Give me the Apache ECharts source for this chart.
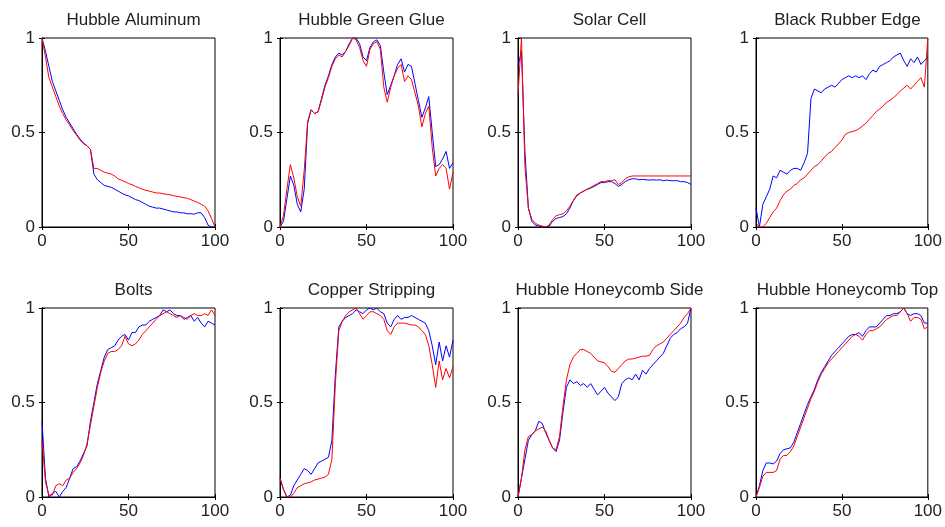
<!DOCTYPE html>
<html>
<head>
<meta charset="utf-8">
<script src="https://cdn.jsdelivr.net/npm/echarts@6/dist/echarts.min.js"></script>
<style>
html, body { margin: 0; padding: 0; background: #fff; }
#main { width: 945px; height: 527px; }
</style>
</head>
<body>
<div id="main"></div>
<script>
// sample positions shared by every panel
const xs = [0,2,4,6,8,10,12,14,16,18,20,22,24,26,28,30,32,34,36,38,40,42,44,46,48,50,52,54,56,58,60,62,64,66,68,70,72,74,76,78,80,82,84,86,88,90,92,94,96,98,100];

const titles = ['Hubble Aluminum', 'Hubble Green Glue', 'Solar Cell', 'Black Rubber Edge',
  'Bolts', 'Copper Stripping', 'Hubble Honeycomb Side', 'Hubble Honeycomb Top'];

const xTicks = [0, 50, 100];
const yTicks = [0, 0.5, 1];

const aluminumBlue = [1,0.93,0.85,0.77,0.72,0.67,0.62,0.58,0.55,0.52,0.49,0.465,0.445,0.43,0.41,0.28,0.25,0.235,0.22,0.215,0.21,0.2,0.19,0.18,0.17,0.165,0.155,0.145,0.14,0.13,0.12,0.11,0.105,0.1,0.1,0.095,0.09,0.085,0.08,0.08,0.075,0.075,0.07,0.07,0.068,0.075,0.075,0.05,0.01,0,0];
const aluminumRed = [1,0.9,0.79,0.74,0.69,0.64,0.6,0.565,0.54,0.51,0.485,0.46,0.44,0.43,0.41,0.31,0.31,0.3,0.29,0.285,0.28,0.27,0.255,0.247,0.24,0.23,0.224,0.215,0.208,0.2,0.194,0.19,0.185,0.18,0.18,0.176,0.173,0.17,0.166,0.162,0.159,0.155,0.152,0.145,0.137,0.13,0.12,0.11,0.085,0.045,0];

const glueBlue = [0,0.03,0.15,0.27,0.22,0.12,0.08,0.2,0.55,0.62,0.6,0.61,0.68,0.75,0.8,0.86,0.9,0.92,0.91,0.93,0.97,1,1,0.97,0.9,0.88,0.95,0.98,0.99,0.96,0.82,0.7,0.75,0.8,0.86,0.89,0.82,0.86,0.85,0.76,0.67,0.58,0.63,0.69,0.5,0.32,0.33,0.36,0.4,0.31,0.34];
const glueRed = [0,0.06,0.2,0.33,0.26,0.16,0.11,0.3,0.56,0.62,0.6,0.61,0.67,0.74,0.79,0.85,0.89,0.91,0.9,0.93,0.96,1,0.99,0.95,0.88,0.85,0.94,0.97,0.98,0.94,0.74,0.66,0.74,0.8,0.84,0.86,0.77,0.8,0.78,0.71,0.64,0.53,0.6,0.64,0.42,0.27,0.31,0.33,0.31,0.2,0.29];

const solarBlue = [0.85,0.93,0.4,0.1,0.03,0.01,0.005,0,0,0.005,0.03,0.045,0.05,0.055,0.07,0.1,0.14,0.165,0.18,0.19,0.2,0.205,0.215,0.225,0.235,0.235,0.24,0.24,0.23,0.215,0.225,0.24,0.25,0.255,0.255,0.25,0.252,0.25,0.248,0.25,0.248,0.25,0.245,0.248,0.245,0.245,0.245,0.24,0.24,0.235,0.225];
const solarRed = [0.7,1,0.32,0.1,0.04,0.02,0.01,0.005,0,0.01,0.04,0.06,0.065,0.07,0.085,0.11,0.14,0.17,0.18,0.19,0.2,0.21,0.22,0.23,0.24,0.24,0.245,0.245,0.25,0.225,0.235,0.255,0.265,0.27,0.27,0.27,0.27,0.27,0.27,0.27,0.27,0.27,0.27,0.27,0.27,0.27,0.27,0.27,0.27,0.27,0.27];

const rubberBlue = [0.1,0,0.12,0.16,0.2,0.27,0.26,0.3,0.29,0.28,0.3,0.31,0.31,0.3,0.34,0.39,0.68,0.73,0.72,0.71,0.73,0.74,0.75,0.74,0.76,0.78,0.79,0.8,0.79,0.8,0.79,0.8,0.78,0.81,0.83,0.82,0.85,0.86,0.87,0.88,0.9,0.91,0.92,0.88,0.85,0.89,0.87,0.9,0.86,0.88,0.9];
const rubberRed = [0.02,0,0,0.02,0.05,0.08,0.1,0.14,0.17,0.19,0.2,0.22,0.23,0.25,0.26,0.28,0.3,0.32,0.33,0.35,0.37,0.39,0.4,0.42,0.44,0.46,0.49,0.5,0.505,0.51,0.52,0.535,0.55,0.57,0.59,0.61,0.625,0.64,0.66,0.67,0.685,0.7,0.72,0.735,0.75,0.73,0.75,0.77,0.79,0.74,1];

const boltsBlue = [0.4,0.1,0,0.02,0.03,0,0.03,0.05,0.1,0.15,0.16,0.19,0.23,0.27,0.4,0.5,0.6,0.67,0.74,0.78,0.79,0.8,0.83,0.85,0.86,0.83,0.87,0.87,0.9,0.91,0.91,0.93,0.94,0.95,0.96,0.99,0.98,0.99,0.97,0.96,0.96,0.94,0.95,0.96,0.93,0.95,0.92,0.9,0.93,0.92,0.91];
const boltsRed = [0.3,0.08,0.01,0.01,0.06,0.07,0.06,0.09,0.1,0.13,0.15,0.18,0.22,0.28,0.38,0.48,0.58,0.66,0.72,0.76,0.77,0.77,0.78,0.8,0.85,0.81,0.8,0.81,0.83,0.86,0.88,0.9,0.92,0.94,0.96,0.97,0.98,0.97,0.96,0.95,0.96,0.95,0.94,0.96,0.97,0.96,0.96,0.97,0.96,0.99,0.96];

const copperBlue = [0.1,0.04,0,0.01,0.06,0.09,0.12,0.15,0.14,0.12,0.15,0.18,0.19,0.2,0.21,0.3,0.65,0.9,0.93,0.95,0.96,0.97,0.99,0.98,0.97,0.99,1,0.99,1,0.98,0.97,0.92,0.9,0.94,0.96,0.94,0.95,0.95,0.96,0.95,0.94,0.93,0.92,0.88,0.8,0.7,0.82,0.72,0.8,0.74,0.83];
const copperRed = [0.1,0.04,0,0,0.02,0.05,0.06,0.07,0.075,0.08,0.09,0.095,0.1,0.105,0.12,0.2,0.6,0.88,0.93,0.96,0.98,0.99,1,0.97,0.94,0.96,0.98,0.98,0.97,0.96,0.94,0.88,0.86,0.9,0.92,0.92,0.92,0.915,0.91,0.91,0.9,0.88,0.86,0.8,0.7,0.58,0.72,0.62,0.68,0.63,0.69];

const sideBlue = [0,0.1,0.2,0.3,0.33,0.35,0.4,0.39,0.34,0.3,0.26,0.24,0.3,0.45,0.58,0.62,0.6,0.61,0.59,0.6,0.58,0.6,0.57,0.54,0.56,0.58,0.55,0.53,0.51,0.53,0.6,0.62,0.63,0.62,0.65,0.62,0.67,0.65,0.68,0.7,0.72,0.74,0.76,0.8,0.84,0.86,0.87,0.89,0.9,0.92,1];
const sideRed = [0,0.1,0.25,0.32,0.33,0.35,0.36,0.37,0.35,0.3,0.26,0.25,0.32,0.48,0.62,0.7,0.74,0.76,0.78,0.78,0.77,0.76,0.74,0.72,0.715,0.71,0.69,0.665,0.66,0.68,0.7,0.72,0.73,0.73,0.735,0.74,0.745,0.745,0.75,0.78,0.8,0.81,0.82,0.84,0.86,0.88,0.9,0.92,0.95,0.97,1];

const topBlue = [0,0.06,0.14,0.18,0.18,0.175,0.19,0.23,0.25,0.255,0.26,0.29,0.34,0.39,0.44,0.49,0.53,0.57,0.62,0.66,0.69,0.72,0.75,0.77,0.79,0.81,0.83,0.85,0.86,0.86,0.87,0.85,0.88,0.9,0.9,0.9,0.92,0.94,0.96,0.96,0.97,0.97,0.98,1,0.97,0.96,0.97,0.97,0.96,0.92,0.92];
const topRed = [0,0.05,0.11,0.13,0.13,0.13,0.14,0.2,0.22,0.22,0.24,0.27,0.32,0.37,0.42,0.47,0.52,0.56,0.61,0.65,0.68,0.71,0.73,0.75,0.77,0.79,0.81,0.83,0.85,0.86,0.85,0.83,0.86,0.88,0.88,0.89,0.9,0.92,0.94,0.95,0.96,0.96,0.98,1,0.97,0.93,0.95,0.95,0.94,0.89,0.9];

const blues = [aluminumBlue, glueBlue, solarBlue, rubberBlue, boltsBlue, copperBlue, sideBlue, topBlue];
const reds = [aluminumRed, glueRed, solarRed, rubberRed, boltsRed, copperRed, sideRed, topRed];

const lefts = [42, 280, 518, 756];
const tops = [38, 308];
const W = 173, H = 189;
const font = 'Liberation Sans, Arial, sans-serif';

const chart = echarts.init(document.getElementById('main'));
let grid = [], xAxis = [], yAxis = [], series = [], title = [];

const pair = vals => xs.map((x, i) => [x, vals[i]]);

for (let k = 0; k < 8; k++) {
  const left = lefts[k % 4], top = tops[Math.floor(k / 4)];
  grid.push({ left, top, width: W, height: H, show: true, borderColor: '#000', borderWidth: 1, backgroundColor: '#fff' });
  title.push({
    text: titles[k], left: left + W / 2, top: top - 31, textAlign: 'center',
    textStyle: { fontFamily: font, fontSize: 17, fontWeight: 'normal', color: '#222' }
  });
  const line = { show: true, lineStyle: { color: '#000', width: 1 } };
  const tick = { show: true, inside: true, length: 3, lineStyle: { color: '#000' } };
  xAxis.push({
    type: 'value', gridIndex: k, min: 0, max: 100, interval: 50, position: 'bottom',
    axisLine: line, axisTick: tick, splitLine: { show: false },
    axisLabel: { fontFamily: font, fontSize: 17, color: '#222', margin: 6, formatter: v => xTicks.includes(v) ? String(v) : '' }
  });
  xAxis.push({
    type: 'value', gridIndex: k, min: 0, max: 100, interval: 50, position: 'top',
    axisLine: line, axisTick: tick, splitLine: { show: false }, axisLabel: { show: false }
  });
  yAxis.push({
    type: 'value', gridIndex: k, min: 0, max: 1, interval: 0.5, position: 'left',
    axisLine: line, axisTick: tick, splitLine: { show: false },
    axisLabel: { fontFamily: font, fontSize: 17, color: '#222', margin: 7, formatter: v => yTicks.includes(v) ? String(v) : '' }
  });
  yAxis.push({
    type: 'value', gridIndex: k, min: 0, max: 1, interval: 0.5, position: 'right',
    axisLine: line, axisTick: tick, splitLine: { show: false }, axisLabel: { show: false }
  });
  series.push({
    type: 'line', xAxisIndex: 2 * k, yAxisIndex: 2 * k, data: pair(blues[k]),
    symbol: 'none', lineStyle: { color: '#0000ff', width: 1 }, silent: true, animation: false
  });
  series.push({
    type: 'line', xAxisIndex: 2 * k, yAxisIndex: 2 * k, data: pair(reds[k]),
    symbol: 'none', lineStyle: { color: '#ff0000', width: 1 }, silent: true, animation: false
  });
}

chart.setOption({ backgroundColor: '#fff', animation: false, title, grid, xAxis, yAxis, series });
</script>
</body>
</html>
